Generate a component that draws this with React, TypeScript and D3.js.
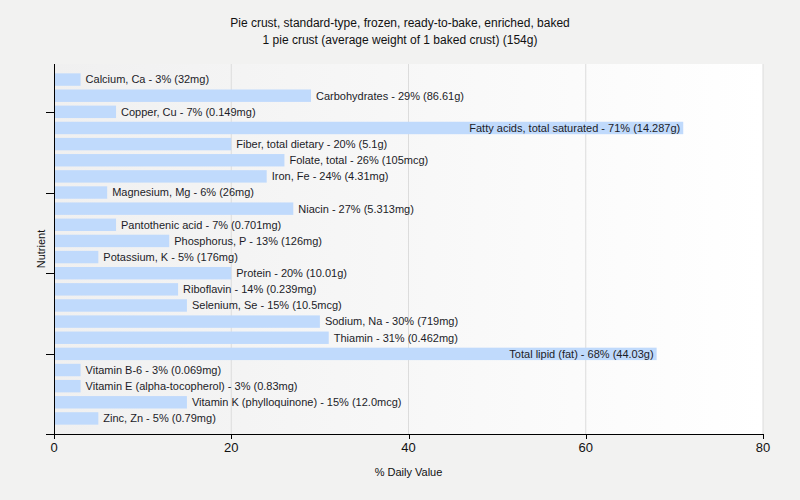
import React, { useEffect, useRef } from 'react';
import * as d3 from 'd3';

const nutrients = [
  'Calcium, Ca', 'Carbohydrates', 'Copper, Cu', 'Fatty acids, total saturated', 'Fiber, total dietary',
  'Folate, total', 'Iron, Fe', 'Magnesium, Mg', 'Niacin', 'Pantothenic acid', 'Phosphorus, P',
  'Potassium, K', 'Protein', 'Riboflavin', 'Selenium, Se', 'Sodium, Na', 'Thiamin',
  'Total lipid (fat)', 'Vitamin B-6', 'Vitamin E (alpha-tocopherol)', 'Vitamin K (phylloquinone)', 'Zinc, Zn',
];
const dailyValues = [3, 29, 7, 71, 20, 26, 24, 6, 27, 7, 13, 5, 20, 14, 15, 30, 31, 68, 3, 3, 15, 5];
const amounts = [
  '32mg', '86.61g', '0.149mg', '14.287g', '5.1g', '105mcg', '4.31mg', '26mg', '5.313mg', '0.701mg', '126mg',
  '176mg', '10.01g', '0.239mg', '10.5mcg', '719mg', '0.462mg', '44.03g', '0.069mg', '0.83mg', '12.0mcg', '0.79mg',
];
const xTicks = [0, 20, 40, 60, 80];
const yTickIndices = [2, 7, 12, 17];
const titleLines = [
  'Pie crust, standard-type, frozen, ready-to-bake, enriched, baked',
  '1 pie crust (average weight of 1 baked crust) (154g)',
];

const W = 800;
const H = 500;
const font = '"Liberation Sans", Arial, sans-serif';

export default function App() {
  const svgRef = useRef<SVGSVGElement>(null);

  useEffect(() => {
    if (!svgRef.current) return;
    const svg = d3.select(svgRef.current);
    svg.selectAll('*').remove();

    const left = 54, right = 763, top = 64, bottom = 434;

    const x = d3.scaleLinear().domain([0, 80]).range([left, right]);
    const y = d3
      .scaleBand<string>()
      .domain(nutrients)
      .range([71.5, 426.5])
      .paddingInner(0.23)
      .paddingOuter(0.115);

    svg.append('rect').attr('width', W).attr('height', H).attr('fill', '#f2f2f1');

    const grad = svg.append('defs').append('linearGradient').attr('id', 'plotbg');
    grad.append('stop').attr('offset', '0%').attr('stop-color', '#f0f0f0');
    grad.append('stop').attr('offset', '100%').attr('stop-color', '#ffffff');

    svg.append('rect')
      .attr('x', left).attr('y', top)
      .attr('width', right - left).attr('height', bottom - top)
      .attr('fill', 'url(#plotbg)');

    // grid lines
    svg.append('g')
      .selectAll('line')
      .data(xTicks.slice(1))
      .join('line')
      .attr('x1', (d) => x(d)).attr('x2', (d) => x(d))
      .attr('y1', top).attr('y2', bottom)
      .attr('stroke', '#dcdcdc');

    // title
    svg.append('g')
      .selectAll('text')
      .data(titleLines)
      .join('text')
      .attr('x', W / 2)
      .attr('y', (_, i) => 27 + i * 17)
      .attr('text-anchor', 'middle')
      .style('font-family', font)
      .style('font-size', '12px')
      .attr('fill', '#111')
      .text((d) => d);

    // bars
    svg.append('g')
      .selectAll('rect')
      .data(nutrients)
      .join('rect')
      .attr('x', x(0) + 1)
      .attr('y', (d) => y(d) || 0)
      .attr('width', (_, i) => x(dailyValues[i]) - x(0) - 1)
      .attr('height', y.bandwidth())
      .attr('fill', '#c0dafc');

    // labels
    const labels = svg.append('g')
      .selectAll('text')
      .data(nutrients)
      .join('text')
      .attr('y', (d) => (y(d) || 0) + y.bandwidth() / 2)
      .attr('dy', '0.35em')
      .style('font-family', font)
      .style('font-size', '11px')
      .attr('fill', '#1c1c28')
      .text((d, i) => `${d} - ${dailyValues[i]}% (${amounts[i]})`);

    labels.each(function (_, i) {
      const t = this as SVGTextElement;
      const end = x(dailyValues[i]);
      const len = t.getComputedTextLength();
      if (end + 5 + len > right) {
        d3.select(t).attr('x', end - 3).attr('text-anchor', 'end');
      } else {
        d3.select(t).attr('x', end + 5).attr('text-anchor', 'start');
      }
    });

    // axes
    const axis = svg.append('g').attr('stroke', '#000').attr('stroke-width', 1);
    axis.append('line').attr('x1', left + 0.5).attr('x2', left + 0.5).attr('y1', top).attr('y2', bottom);
    axis.append('line').attr('x1', 46).attr('x2', right).attr('y1', bottom + 0.5).attr('y2', bottom + 0.5);

    axis.selectAll('.xt')
      .data(xTicks)
      .join('line')
      .attr('class', 'xt')
      .attr('x1', (d) => Math.round(x(d)) + 0.5).attr('x2', (d) => Math.round(x(d)) + 0.5)
      .attr('y1', bottom).attr('y2', bottom + 5);

    axis.selectAll('.yt')
      .data(yTickIndices)
      .join('line')
      .attr('class', 'yt')
      .attr('x1', 46).attr('x2', left)
      .attr('y1', (d) => Math.round((y(nutrients[d]) || 0) + y.bandwidth() / 2) + 0.5)
      .attr('y2', (d) => Math.round((y(nutrients[d]) || 0) + y.bandwidth() / 2) + 0.5);

    svg.append('g')
      .selectAll('text')
      .data(xTicks)
      .join('text')
      .attr('x', (d) => x(d))
      .attr('y', 452)
      .attr('text-anchor', 'middle')
      .style('font-family', font)
      .style('font-size', '13px')
      .attr('fill', '#111')
      .text((d) => d);

    svg.append('text')
      .attr('x', (left + right) / 2)
      .attr('y', 476)
      .attr('text-anchor', 'middle')
      .style('font-family', font)
      .style('font-size', '11px')
      .attr('fill', '#111')
      .text('% Daily Value');

    svg.append('text')
      .attr('transform', `translate(45,${(top + bottom) / 2}) rotate(-90)`)
      .attr('text-anchor', 'middle')
      .style('font-family', font)
      .style('font-size', '11px')
      .attr('fill', '#111')
      .text('Nutrient');
  }, []);

  return (
    <div style={{ position: 'absolute', left: 0, top: 0 }}>
      <svg ref={svgRef} width={W} height={H} style={{ display: 'block' }} />
    </div>
  );
}
